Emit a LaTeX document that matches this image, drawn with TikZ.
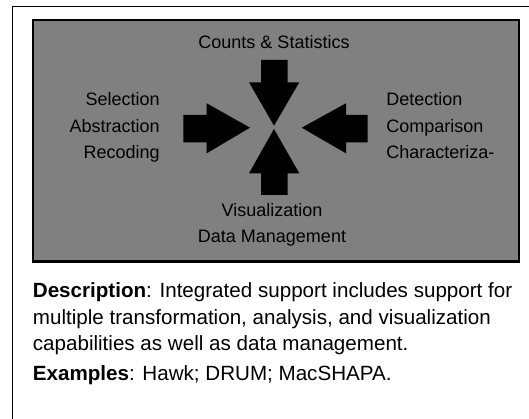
\documentclass[tikz,border=0pt]{standalone}
\usepackage{fontspec}
\setmainfont{Liberation Sans}
\usepackage{tikz}
\definecolor{panelgray}{RGB}{128,128,128}

\begin{document}
\begin{tikzpicture}[x=1pt, y=-1pt, thick,
    lbl/.style = {inner sep=0pt, font=\fontsize{18}{26.5}\selectfont},
    blk/.style = {fill=black, draw=none},
    desc/.style = {inner sep=0pt, align=left, font=\fontsize{20.6}{26.7}\selectfont}]
    \useasboundingbox (0,0) rectangle (529,419);
    \draw[line width=1.5pt] (540,6.5) -- (12.5,6.5) -- (12.5,430);
    \draw[line width=2.2pt, fill=panelgray] (33,20) rectangle (519,261.5);

    % block arrows
    \fill[blk] (261,60) -- (287.7,60) -- (287.7,82.3) -- (299.3,82.3) -- (274,125.7) -- (249,82.3) -- (261,82.3) -- cycle;
    \fill[blk] (261,195) -- (287.7,195) -- (287.7,173.3) -- (299.3,173.3) -- (274,129) -- (249,173.3) -- (261,173.3) -- cycle;
    \fill[blk] (183.3,115) -- (206.7,115) -- (206.7,103.3) -- (250,127.7) -- (206.7,153.3) -- (206.7,142.3) -- (183.3,142.3) -- cycle;
    \fill[blk] (367.7,115) -- (346,115) -- (346,103.3) -- (301.7,127.7) -- (346,153.3) -- (346,142.3) -- (367.7,142.3) -- cycle;

    % labels (base = last line)
    \node[lbl, anchor=base] (counts) at (274,49) {Counts \& Statistics};
    \node[lbl, anchor=base east, align=right] (select) at (160,159) {Selection\\Abstraction\\Recoding};
    \node[lbl, anchor=base west, align=left] (detect) at (386,159) {Detection\\Comparison\\Characteriza-};
    \node[lbl, anchor=base, align=center] (visual) at (272,242.7) {Visualization\\Data Management};

    \node[desc, anchor=base west] (descr) at (32.5,350.7) {\textbf{Description}: Integrated support includes support for\\multiple transformation, analysis, and visualization\\capabilities as well as data management.};
    \node[desc, anchor=base west] (examples) at (32.5,380.7) {\textbf{Examples}: Hawk; DRUM; MacSHAPA.};
\end{tikzpicture}
\end{document}
